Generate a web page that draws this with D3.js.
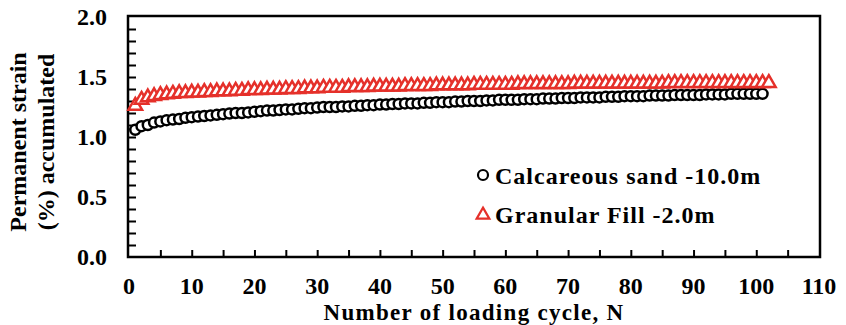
<!DOCTYPE html>
<html lang="en">
<head>
<meta charset="UTF-8">
<title>Permanent strain accumulated</title>
<script src="https://d3js.org/d3.v7.min.js"></script>
<style>
  body { margin: 0; background: #fff; }
  text { font-family: "Liberation Serif", "Times New Roman", Times, serif; font-weight: bold; fill: #000; }
</style>
</head>
<body>
<div id="chart"></div>
<script>
// Calcareous sand -10.0m, N = 1..101
const sandValues = [
  1.06,1.09,1.10,1.12,1.13,1.14,1.145,1.15,1.16,1.165,
  1.17,1.175,1.18,1.185,1.19,1.195,1.20,1.20,1.205,1.21,
  1.215,1.22,1.22,1.225,1.23,1.23,1.235,1.24,1.24,1.245,
  1.25,1.25,1.25,1.255,1.255,1.26,1.26,1.265,1.265,1.27,
  1.27,1.275,1.275,1.28,1.28,1.28,1.285,1.285,1.29,1.29,
  1.29,1.295,1.295,1.30,1.30,1.30,1.305,1.305,1.31,1.31,
  1.31,1.31,1.315,1.315,1.315,1.32,1.32,1.32,1.325,1.325,
  1.325,1.33,1.33,1.33,1.33,1.335,1.335,1.335,1.34,1.34,
  1.34,1.34,1.345,1.345,1.345,1.345,1.35,1.35,1.35,1.35,
  1.35,1.355,1.355,1.355,1.355,1.36,1.36,1.36,1.36,1.36,1.36
];
// Granular Fill -2.0m, N = 1..102
const fillValues = [
  1.26,1.31,1.33,1.34,1.35,1.355,1.36,1.365,1.365,1.37,
  1.37,1.375,1.375,1.38,1.38,1.38,1.385,1.385,1.39,1.39,
  1.39,1.395,1.395,1.395,1.40,1.40,1.40,1.405,1.405,1.405,
  1.41,1.41,1.41,1.41,1.415,1.415,1.415,1.415,1.42,1.42,
  1.42,1.42,1.42,1.425,1.425,1.425,1.425,1.425,1.43,1.43,
  1.43,1.43,1.43,1.43,1.435,1.435,1.435,1.435,1.435,1.435,
  1.435,1.44,1.44,1.44,1.44,1.44,1.44,1.44,1.44,1.44,
  1.445,1.445,1.445,1.445,1.445,1.445,1.445,1.445,1.445,1.445,
  1.445,1.445,1.445,1.445,1.445,1.45,1.45,1.45,1.45,1.45,
  1.45,1.45,1.45,1.45,1.45,1.45,1.45,1.45,1.45,1.45,1.45,1.45
];
const xTicks = [0, 10, 20, 30, 40, 50, 60, 70, 80, 90, 100, 110];
const yTicks = [0, 0.5, 1.0, 1.5, 2.0];
const seriesNames = ["Calcareous sand -10.0m", "Granular Fill -2.0m"];

const W = 846, H = 325;
const plot = { left: 129, right: 820, top: 16, bottom: 257 };
const red = "#e5302a";

const svg = d3.select("#chart").append("svg")
  .attr("width", W).attr("height", H);

const x = d3.scaleLinear().domain([0, 110]).range([plot.left, plot.right - 1]);
const y = d3.scaleLinear().domain([0, 2]).range([plot.bottom, plot.top + 1]);

// inward ticks
const xAxis = d3.axisTop(x).tickValues(d3.range(5, 110, 5)).tickSize(7).tickFormat("");
svg.append("g").attr("transform", `translate(0,${plot.bottom})`).call(xAxis)
  .call(g => g.select(".domain").remove())
  .selectAll("line").attr("stroke", "#000").attr("stroke-width", 2);

const yAxis = d3.axisRight(y).tickValues(d3.range(1, 20).map(d => d / 10)).tickSize(7).tickFormat("");
svg.append("g").attr("transform", `translate(${plot.left},0)`).call(yAxis)
  .call(g => g.select(".domain").remove())
  .selectAll("line").attr("stroke", "#000").attr("stroke-width", 2);

// frame
svg.append("rect")
  .attr("x", plot.left - 1).attr("y", plot.top)
  .attr("width", plot.right - plot.left + 1).attr("height", plot.bottom - plot.top)
  .attr("fill", "none").attr("stroke", "#000").attr("stroke-width", 2.5);

// tick labels
svg.append("g").selectAll("text").data(xTicks).join("text")
  .attr("x", d => x(d)).attr("y", 294)
  .attr("text-anchor", "middle").style("font-size", "24px")
  .text(d => d);

svg.append("g").selectAll("text").data(yTicks).join("text")
  .attr("x", 107).attr("y", d => y(d)).attr("dy", "0.35em")
  .attr("text-anchor", "end").style("font-size", "24px")
  .text(d => d.toFixed(1));

// axis titles
svg.append("text")
  .attr("x", 474).attr("y", 320)
  .attr("text-anchor", "middle").style("font-size", "23px").style("letter-spacing", "1.3px")
  .text("Number of loading cycle, N");

const yt = svg.append("text")
  .attr("transform", "translate(0,142) rotate(-90)")
  .attr("text-anchor", "middle").style("font-size", "24px");
yt.append("tspan").attr("x", 0).attr("y", 26).text("Permanent strain");
yt.append("tspan").attr("x", 0).attr("y", 54).text("(%) accumulated");

// data
const tri = d3.symbol().type(d3.symbolTriangle).size(80);

svg.append("g").selectAll("circle").data(sandValues).join("circle")
  .attr("cx", (d, i) => x(i + 1)).attr("cy", d => y(d)).attr("r", 5)
  .attr("fill", "#fff").attr("stroke", "#000").attr("stroke-width", 2.5);

svg.append("g").selectAll("path").data(fillValues).join("path")
  .attr("d", tri)
  .attr("transform", (d, i) => `translate(${x(i + 1)},${y(d)})`)
  .attr("fill", "#fff").attr("stroke", red).attr("stroke-width", 2.5);

// legend
const lg = svg.append("g");
lg.append("circle").attr("cx", 483).attr("cy", 175).attr("r", 5)
  .attr("fill", "#fff").attr("stroke", "#000").attr("stroke-width", 2.2);
lg.append("text").attr("x", 495).attr("y", 184)
  .style("font-size", "24px").style("letter-spacing", "1px").text(seriesNames[0]);
lg.append("path").attr("d", d3.symbol().type(d3.symbolTriangle).size(70)).attr("transform", "translate(483,215)")
  .attr("fill", "#fff").attr("stroke", red).attr("stroke-width", 2.2);
lg.append("text").attr("x", 495).attr("y", 223)
  .style("font-size", "24px").style("letter-spacing", "1px").text(seriesNames[1]);
</script>
</body>
</html>
